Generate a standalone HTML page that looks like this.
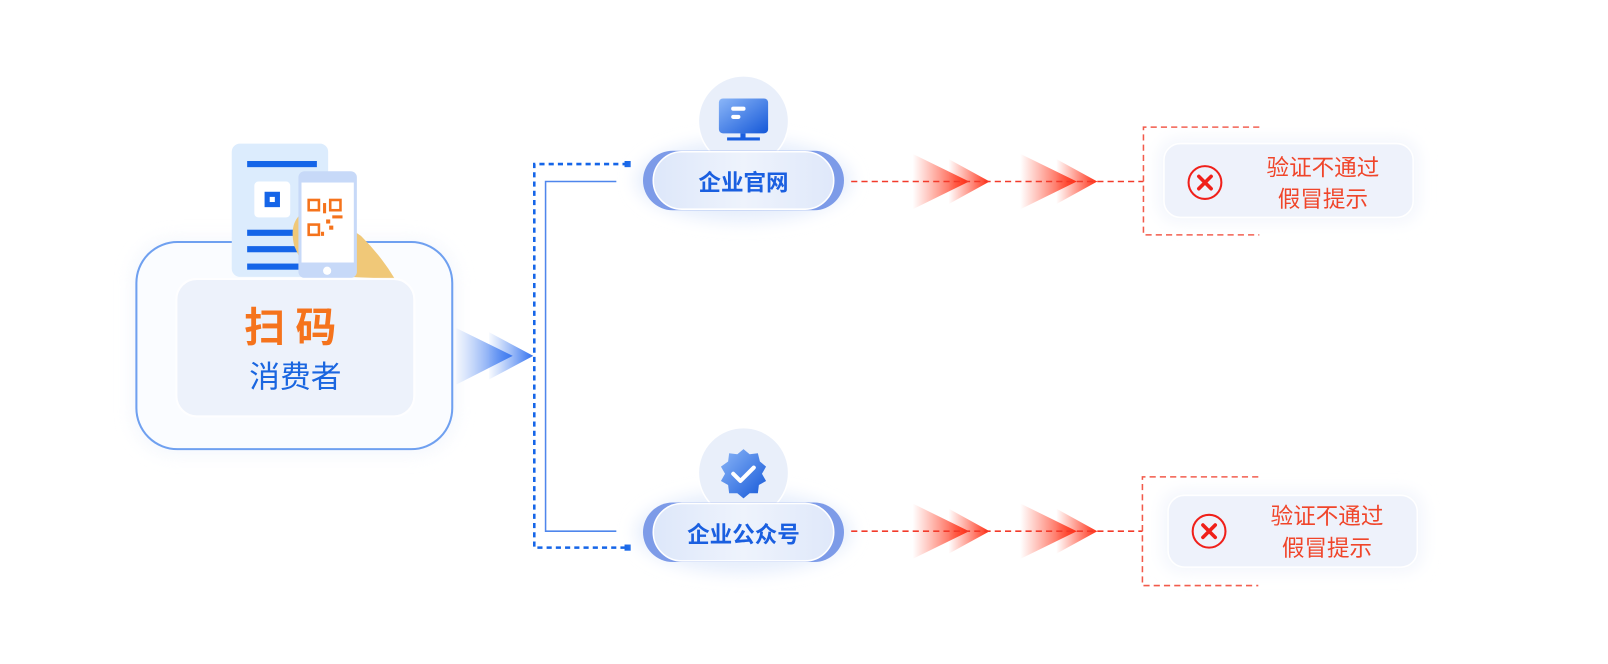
<!DOCTYPE html>
<html><head><meta charset="utf-8"><style>
body{margin:0;background:#fff;}
svg{display:block;font-family:"Liberation Sans","Noto Sans CJK SC",sans-serif;}
</style></head><body>
<svg width="1608" height="664" viewBox="0 0 1568 647.5" preserveAspectRatio="none" xmlns="http://www.w3.org/2000/svg">
<defs>
<linearGradient id="bl" x1="0" x2="1"><stop offset="0" stop-color="#5b8ff0" stop-opacity="0.05"/><stop offset="1" stop-color="#2f6ff0"/></linearGradient>
<linearGradient id="rd" x1="0" x2="1"><stop offset="0" stop-color="#ff3a20" stop-opacity="0"/><stop offset="1" stop-color="#ff2a10"/></linearGradient>
<linearGradient id="pill" x1="0" x2="1"><stop offset="0" stop-color="#dde7fa"/><stop offset="0.5" stop-color="#eef3fc"/><stop offset="1" stop-color="#dfe8fa"/></linearGradient>
<linearGradient id="ic" x1="0" y1="0" x2="1" y2="1"><stop offset="0" stop-color="#8bb6f8"/><stop offset="1" stop-color="#1558d8"/></linearGradient>
<filter id="sh" x="-30%" y="-30%" width="160%" height="160%"><feGaussianBlur stdDeviation="8"/></filter>
</defs>

<rect x="128" y="232" width="318" height="212" rx="42" fill="#eef3fc" filter="url(#sh)" opacity="0.6"/>
<rect x="133" y="236" width="308" height="202" rx="40" fill="#fafcff" stroke="#6fa0f0" stroke-width="2"/>
<rect x="226" y="140" width="94" height="130" rx="8" fill="#dcecfd"/>
<rect x="241" y="157" width="68" height="6" fill="#1565e8"/>
<rect x="248" y="177" width="35" height="35" rx="4" fill="#fff"/>
<rect x="258" y="187" width="15" height="15" fill="#1565e8"/><rect x="263" y="192" width="5" height="5" fill="#fff"/>
<rect x="241" y="224" width="55" height="6" fill="#1565e8"/>
<rect x="241" y="240" width="55" height="6" fill="#1565e8"/>
<rect x="241" y="257" width="55" height="6" fill="#1565e8"/>
<path d="M292 210 Q282 220 287 240 L297 262 L340 270 L385 272 Q372 250 352 230 L340 222 Z" fill="#f0c878"/>
<rect x="291" y="167" width="57" height="104" rx="6" fill="#c7d9f8"/>
<rect x="294" y="178" width="51" height="78" fill="#fff"/>
<circle cx="319" cy="264" r="4" fill="#fff"/>
<g fill="none" stroke="#f5731c" stroke-width="2.5">
<rect x="301" y="195" width="10" height="10"/><rect x="322" y="195" width="10" height="10"/><rect x="301" y="219" width="10" height="10"/>
</g>
<g fill="#f5731c"><rect x="315" y="198" width="3" height="10"/><rect x="318" y="214" width="4" height="4"/><rect x="324" y="210" width="10" height="3"/><rect x="321" y="220" width="4" height="4"/><rect x="313" y="226" width="3" height="4"/></g>
<ellipse cx="335" cy="228" rx="6" ry="8" fill="#fff"/>
<rect x="172" y="272" width="232" height="134" rx="20" fill="#edf2fb" stroke="#fff" stroke-width="2" opacity="0.93"/>
<text x="288" y="333" text-anchor="middle" font-size="40" font-weight="bold" fill="#f5731c" letter-spacing="10">扫码</text>
<text x="288" y="378" text-anchor="middle" font-size="30" fill="#1a66e0">消费者</text>
<polygon points="445,320 500,347 445,375" fill="url(#bl)"/>
<polygon points="477,324 520,347 477,370" fill="url(#bl)"/>
<path d="M612 160 H521 V534 H612" fill="none" stroke="#1565e8" stroke-width="2.5" stroke-dasharray="5,4"/>
<rect x="609" y="157" width="6" height="6" fill="#1565e8"/><rect x="609" y="531" width="6" height="6" fill="#1565e8"/>
<path d="M601 177 H532 V518 H601" fill="none" stroke="#4f86ec" stroke-width="1.5"/>

<ellipse cx="725" cy="176" rx="105" ry="40" fill="#e6eefc" filter="url(#sh)"/>
<circle cx="725" cy="118" r="44" fill="#e9effa" stroke="#fff" stroke-width="1.5"/>
<rect x="701" y="96" width="48" height="34" rx="4" fill="url(#ic)"/>
<rect x="713" y="104" width="14" height="4" rx="2" fill="#fff"/><rect x="713" y="112" width="9" height="4" rx="2" fill="#fff"/>
<rect x="722" y="130" width="5" height="5" fill="#1a5fe0"/><rect x="709" y="134" width="32" height="3" fill="#1a5fe0"/>
<rect x="627" y="147" width="196" height="58" rx="29" fill="#7d9be8"/>
<rect x="637" y="148" width="176" height="56" rx="28" fill="url(#pill)" stroke="#fff" stroke-width="1.5"/>
<text x="725" y="186" text-anchor="middle" font-size="22" font-weight="bold" fill="#1a5fe0">企业官网</text>

<ellipse cx="725" cy="519" rx="105" ry="40" fill="#e6eefc" filter="url(#sh)"/>
<circle cx="725" cy="461" r="44" fill="#e9effa" stroke="#fff" stroke-width="1.5"/>
<polygon points="725,438 731,443 739,442 741,450 747,455 743,462 747,469 740,473 739,481 731,481 725,486 719,481 711,481 710,473 703,469 707,462 703,455 710,450 711,442 719,443" fill="url(#ic)"/>
<path d="M715 462 L722 469 L735 456" fill="none" stroke="#fff" stroke-width="4" stroke-linecap="round" stroke-linejoin="round"/>
<rect x="627" y="490" width="196" height="58" rx="29" fill="#7d9be8"/>
<rect x="637" y="491" width="176" height="56" rx="28" fill="url(#pill)" stroke="#fff" stroke-width="1.5"/>
<text x="725" y="529" text-anchor="middle" font-size="22" font-weight="bold" fill="#1a5fe0">企业公众号</text>

<g>
<polygon points="890,150 945,177 890,204" fill="url(#rd)"/><polygon points="925,155 965,177 925,199" fill="url(#rd)"/>
<polygon points="995,150 1050,177 995,204" fill="url(#rd)"/><polygon points="1030,155 1070,177 1030,199" fill="url(#rd)"/>
<line x1="830" y1="177" x2="1115" y2="177" stroke="#f23a2a" stroke-width="1.5" stroke-dasharray="6,4"/>
<path d="M1228 124 H1115 V229 H1228" fill="none" stroke="#f25a4a" stroke-width="1.5" stroke-dasharray="6,4"/>
<rect x="1130" y="136" width="253" height="80" rx="18" fill="#f2f5fc" filter="url(#sh)"/>
<rect x="1135" y="140" width="243" height="72" rx="16" fill="#eef2fb" stroke="#fff" stroke-width="1.5"/>
<circle cx="1175" cy="178" r="16" fill="none" stroke="#f0201a" stroke-width="2"/>
<path d="M1169 172 L1181 184 M1181 172 L1169 184" stroke="#f0201a" stroke-width="3.5" stroke-linecap="round"/>
<text x="1290" y="171" text-anchor="middle" font-size="22" fill="#f0452a">验证不通过</text>
<text x="1290" y="202" text-anchor="middle" font-size="22" fill="#f0452a">假冒提示</text>
</g>
<g>
<polygon points="890,491 945,518 890,545" fill="url(#rd)"/><polygon points="925,496 965,518 925,540" fill="url(#rd)"/>
<polygon points="995,491 1050,518 995,545" fill="url(#rd)"/><polygon points="1030,496 1070,518 1030,540" fill="url(#rd)"/>
<line x1="830" y1="518" x2="1114" y2="518" stroke="#f23a2a" stroke-width="1.5" stroke-dasharray="6,4"/>
<path d="M1227 465 H1114 V571 H1227" fill="none" stroke="#f25a4a" stroke-width="1.5" stroke-dasharray="6,4"/>
<rect x="1134" y="479" width="253" height="78" rx="18" fill="#f2f5fc" filter="url(#sh)"/>
<rect x="1139" y="483" width="243" height="70" rx="16" fill="#eef2fb" stroke="#fff" stroke-width="1.5"/>
<circle cx="1179" cy="518" r="16" fill="none" stroke="#f0201a" stroke-width="2"/>
<path d="M1173 512 L1185 524 M1185 512 L1173 524" stroke="#f0201a" stroke-width="3.5" stroke-linecap="round"/>
<text x="1294" y="511" text-anchor="middle" font-size="22" fill="#f0452a">验证不通过</text>
<text x="1294" y="542" text-anchor="middle" font-size="22" fill="#f0452a">假冒提示</text>
</g>
</svg>
</body></html>
